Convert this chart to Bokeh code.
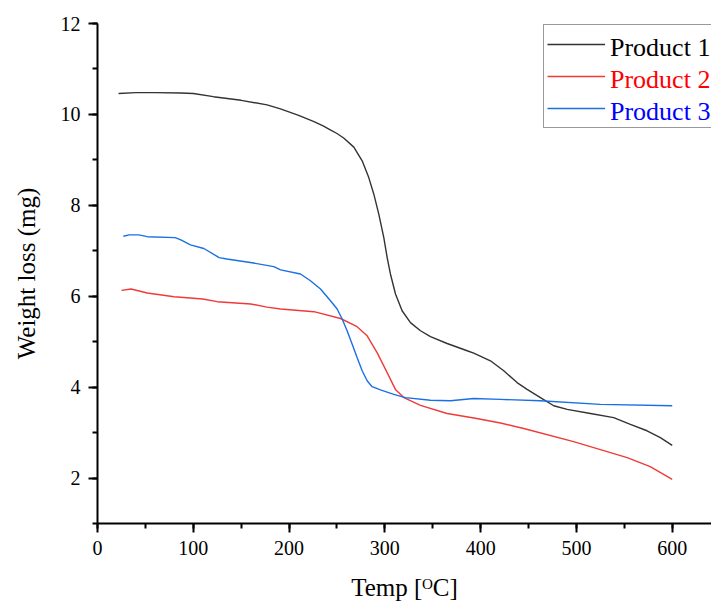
from bokeh.plotting import figure
from bokeh.models import Legend, LegendItem, SingleIntervalTicker, Range1d
from bokeh.embed import file_html
from bokeh.resources import INLINE

# ---- data ----
p1_temp = [22, 40, 60, 87, 100, 121, 150, 177, 191, 210, 226, 236, 243, 250, 257, 267.6,
           276.3, 283.2, 288.4, 293.6, 298.9, 302.4, 305.8, 311.1, 318, 326.7, 337.2,
           347.6, 365, 385.9, 392.8, 410.2, 424.1, 438, 448.5, 462.4, 476.3, 490.3,
           514.6, 538.9, 556.3, 573.7, 587.6, 600]
p1_wt = [10.46, 10.48, 10.48, 10.47, 10.46, 10.39, 10.31, 10.21, 10.12, 9.98, 9.84, 9.74,
         9.66, 9.58, 9.48, 9.28, 8.98, 8.61, 8.25, 7.81, 7.29, 6.85, 6.49, 6.05, 5.68,
         5.42, 5.24, 5.11, 4.96, 4.80, 4.75, 4.58, 4.36, 4.10, 3.95, 3.77, 3.59, 3.51,
         3.42, 3.33, 3.18, 3.04, 2.89, 2.72]

p2_temp = [25, 35, 52, 80, 110, 125, 160, 177, 191.2, 226, 253.7, 271, 281.5, 291.9,
           302.4, 311, 319.8, 337.2, 365, 393, 420.7, 445, 497, 553, 577, 600]
p2_wt = [6.13, 6.16, 6.07, 5.99, 5.94, 5.88, 5.83, 5.76, 5.72, 5.66, 5.51, 5.33, 5.13,
         4.76, 4.32, 3.95, 3.77, 3.60, 3.42, 3.32, 3.21, 3.09, 2.80, 2.45, 2.25, 1.97]

p3_temp = [27, 33, 43, 52, 81, 87, 97, 111, 127, 135, 163, 184, 191.2, 211.9, 222.3,
           232.8, 243.2, 250.2, 255.4, 260.6, 265.8, 271, 276.3, 281.5, 286.7, 295.4,
           309.3, 321.5, 347.6, 368.5, 392.8, 420.7, 462, 525, 600]
p3_wt = [7.32, 7.35, 7.35, 7.31, 7.29, 7.24, 7.13, 7.05, 6.85, 6.82, 6.73, 6.65, 6.58,
         6.49, 6.34, 6.16, 5.90, 5.72, 5.50, 5.24, 4.95, 4.65, 4.36, 4.14, 4.01, 3.94,
         3.84, 3.77, 3.71, 3.70, 3.75, 3.73, 3.70, 3.62, 3.59]

series_names = ["Product 1", "Product 2", "Product 3"]
line_colors = ["#333333", "#f03a3a", "#1a6fe6"]
text_colors = ["#000000", "#ff0000", "#0000ff"]

FONT = "Liberation Serif"

p = figure(width=711, height=606, output_backend="svg", toolbar_location=None,
           x_range=Range1d(0, 641), y_range=Range1d(1, 12),
           min_border_left=97, min_border_right=0, min_border_top=23,
           min_border_bottom=83)
p.outline_line_color = None
p.xgrid.visible = False
p.ygrid.visible = False
p.background_fill_color = "white"
p.border_fill_color = "white"

r1 = p.line(p1_temp, p1_wt, line_color=line_colors[0], line_width=1.4)
r2 = p.line(p2_temp, p2_wt, line_color=line_colors[1], line_width=1.4)
r3 = p.line(p3_temp, p3_wt, line_color=line_colors[2], line_width=1.4)
renderers = [r1, r2, r3]

# invisible stand-ins used only by the coloured label overlays
ghosts = [p.line(x=[], y=[], line_alpha=0.0) for _ in renderers]

p.xaxis.ticker = SingleIntervalTicker(interval=100, num_minor_ticks=2)
p.yaxis.ticker = SingleIntervalTicker(interval=2, num_minor_ticks=2)

for ax in (p.xaxis[0], p.yaxis[0]):
    ax.axis_line_color = "black"
    ax.axis_line_width = 2
    ax.major_tick_line_color = "black"
    ax.major_tick_line_width = 2
    ax.minor_tick_line_color = "black"
    ax.minor_tick_line_width = 2
    ax.major_tick_out = 9
    ax.major_tick_in = 0
    ax.minor_tick_out = 5
    ax.minor_tick_in = 0
    ax.major_label_text_font = FONT
    ax.major_label_text_font_size = "20px"
    ax.major_label_text_color = "black"
    ax.major_label_standoff = 8
    ax.axis_label_text_font = FONT
    ax.axis_label_text_font_size = "25px"
    ax.axis_label_text_font_style = "normal"
    ax.axis_label_text_color = "black"

p.xaxis.axis_label = "Temp [\u1d3cC]"
p.yaxis.axis_label = "Weight loss (mg)"
p.xaxis.axis_label_standoff = 16
p.yaxis.axis_label_standoff = 18

common = dict(glyph_width=58, glyph_height=32, label_height=32, label_standoff=9,
              padding=3, spacing=0, margin=0, label_text_font=FONT,
              label_text_font_size="26px")

# box + line samples (labels blank; coloured labels are drawn by the overlays)
main_legend = Legend(items=[LegendItem(label=" ", renderers=[r]) for r in renderers],
                     location=(446, 395), border_line_color="#333333", border_line_width=1.5,
                     background_fill_color="white", background_fill_alpha=1.0,
                     label_width=115, label_text_color="white", **common)
p.add_layout(main_legend, "center")

for k, (n, g, c) in enumerate(zip(series_names, ghosts, text_colors)):
    lg = Legend(items=[LegendItem(label=n, renderers=[g])],
                location=(446, 459 - 32 * k), border_line_color=None,
                background_fill_alpha=0.0, label_text_color=c, **common)
    p.add_layout(lg, "center")

open("out.html", "w").write(file_html(p, INLINE))
